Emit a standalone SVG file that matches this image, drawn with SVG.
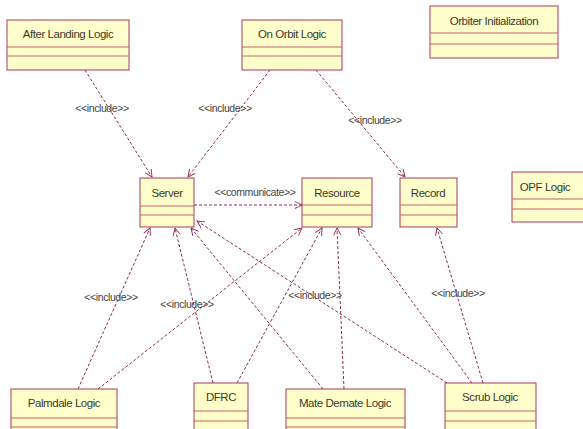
<svg xmlns="http://www.w3.org/2000/svg" width="583" height="429" viewBox="0 0 583 429">
  <style>
    .cls rect.body { fill: #ffffcc; stroke: #a8385c; stroke-width: 1; }
    .cls line.div { stroke: #c8606e; stroke-width: 1.2; }
    .cls text { font-family: "Liberation Sans", Arial, sans-serif; font-size: 11.5px; fill: #3a3a2a; text-anchor: middle; letter-spacing: -0.45px; }
    .dep { stroke: #8e2a56; stroke-width: 1; stroke-dasharray: 3 2; fill: none; marker-end: url(#open); }
    .lbl { font-family: "Liberation Sans", Arial, sans-serif; font-size: 10.5px; fill: #444; text-anchor: middle; letter-spacing: -0.4px; }
  </style>
  <defs>
    <marker id="open" viewBox="0 0 10 10" refX="9" refY="5" markerWidth="9" markerHeight="9" markerUnits="userSpaceOnUse" orient="auto">
      <path d="M1,1 L9,5 L1,9" fill="none" stroke="#8e2a56" stroke-width="1"/>
    </marker>
  </defs>
  <rect width="583" height="429" fill="#ffffff"/>

  <!-- dependency connectors -->
  <g id="connectors">
    <line class="dep" x1="85" y1="70" x2="152" y2="177"/>
    <line class="dep" x1="270" y1="70" x2="188" y2="177"/>
    <line class="dep" x1="316" y1="70" x2="405" y2="177"/>
    <line class="dep" x1="194" y1="205" x2="302" y2="205"/>
    <line class="dep" x1="78" y1="389" x2="150" y2="228"/>
    <line class="dep" x1="98" y1="389" x2="302" y2="228"/>
    <line class="dep" x1="213" y1="383" x2="175" y2="228"/>
    <line class="dep" x1="237" y1="383" x2="322" y2="228"/>
    <line class="dep" x1="323" y1="389" x2="191" y2="228"/>
    <line class="dep" x1="344" y1="389" x2="337" y2="228"/>
    <line class="dep" x1="447" y1="383" x2="197" y2="221"/>
    <line class="dep" x1="472" y1="383" x2="358" y2="228"/>
    <line class="dep" x1="483" y1="383" x2="437" y2="228"/>
    <text class="lbl" x="102" y="112">&lt;&lt;include&gt;&gt;</text>
    <text class="lbl" x="225" y="112">&lt;&lt;include&gt;&gt;</text>
    <text class="lbl" x="375" y="124">&lt;&lt;include&gt;&gt;</text>
    <text class="lbl" x="255" y="196">&lt;&lt;communicate&gt;&gt;</text>
    <text class="lbl" x="111" y="301">&lt;&lt;include&gt;&gt;</text>
    <text class="lbl" x="187" y="308">&lt;&lt;include&gt;&gt;</text>
    <text class="lbl" x="315" y="299">&lt;&lt;include&gt;&gt;</text>
    <text class="lbl" x="458" y="297">&lt;&lt;include&gt;&gt;</text>
  </g>

  <g id="after-landing-logic" class="cls">
    <rect class="body" x="7" y="20" width="122" height="50"/>
    <line class="div" x1="7" y1="47" x2="129" y2="47"/>
    <line class="div" x1="7" y1="56" x2="129" y2="56"/>
    <text x="68" y="38">After Landing Logic</text>
  </g>
  <g id="on-orbit-logic" class="cls">
    <rect class="body" x="242" y="20" width="100" height="50"/>
    <line class="div" x1="242" y1="47" x2="342" y2="47"/>
    <line class="div" x1="242" y1="56" x2="342" y2="56"/>
    <text x="292" y="38">On Orbit Logic</text>
  </g>
  <g id="orbiter-initialization" class="cls">
    <rect class="body" x="430" y="6" width="128" height="52"/>
    <line class="div" x1="430" y1="33" x2="558" y2="33"/>
    <line class="div" x1="430" y1="44" x2="558" y2="44"/>
    <text x="494" y="25">Orbiter Initialization</text>
  </g>
  <g id="server" class="cls">
    <rect class="body" x="140" y="178" width="54" height="49"/>
    <line class="div" x1="140" y1="206" x2="194" y2="206"/>
    <line class="div" x1="140" y1="215" x2="194" y2="215"/>
    <text x="167" y="197">Server</text>
  </g>
  <g id="resource" class="cls">
    <rect class="body" x="302" y="178" width="70" height="49"/>
    <line class="div" x1="302" y1="205" x2="372" y2="205"/>
    <line class="div" x1="302" y1="215" x2="372" y2="215"/>
    <text x="337" y="197">Resource</text>
  </g>
  <g id="record" class="cls">
    <rect class="body" x="400" y="178" width="57" height="49"/>
    <line class="div" x1="400" y1="205" x2="457" y2="205"/>
    <line class="div" x1="400" y1="215" x2="457" y2="215"/>
    <text x="428" y="197">Record</text>
  </g>
  <g id="opf-logic" class="cls">
    <rect class="body" x="512" y="172" width="80" height="50"/>
    <line class="div" x1="512" y1="199" x2="583" y2="199"/>
    <line class="div" x1="512" y1="209" x2="583" y2="209"/>
    <text x="545" y="191">OPF Logic</text>
  </g>
  <g id="palmdale-logic" class="cls">
    <rect class="body" x="11" y="389" width="106" height="50"/>
    <line class="div" x1="11" y1="418" x2="117" y2="418"/>
    <line class="div" x1="11" y1="427" x2="117" y2="427"/>
    <text x="64" y="407">Palmdale Logic</text>
  </g>
  <g id="dfrc" class="cls">
    <rect class="body" x="194" y="383" width="54" height="56"/>
    <line class="div" x1="194" y1="411" x2="248" y2="411"/>
    <line class="div" x1="194" y1="421" x2="248" y2="421"/>
    <text x="221" y="401">DFRC</text>
  </g>
  <g id="mate-demate-logic" class="cls">
    <rect class="body" x="286" y="389" width="119" height="50"/>
    <line class="div" x1="286" y1="418" x2="405" y2="418"/>
    <line class="div" x1="286" y1="427" x2="405" y2="427"/>
    <text x="345" y="407">Mate Demate Logic</text>
  </g>
  <g id="scrub-logic" class="cls">
    <rect class="body" x="445" y="383" width="91" height="56"/>
    <line class="div" x1="445" y1="411" x2="536" y2="411"/>
    <line class="div" x1="445" y1="421" x2="536" y2="421"/>
    <text x="490" y="401">Scrub Logic</text>
  </g>
</svg>
